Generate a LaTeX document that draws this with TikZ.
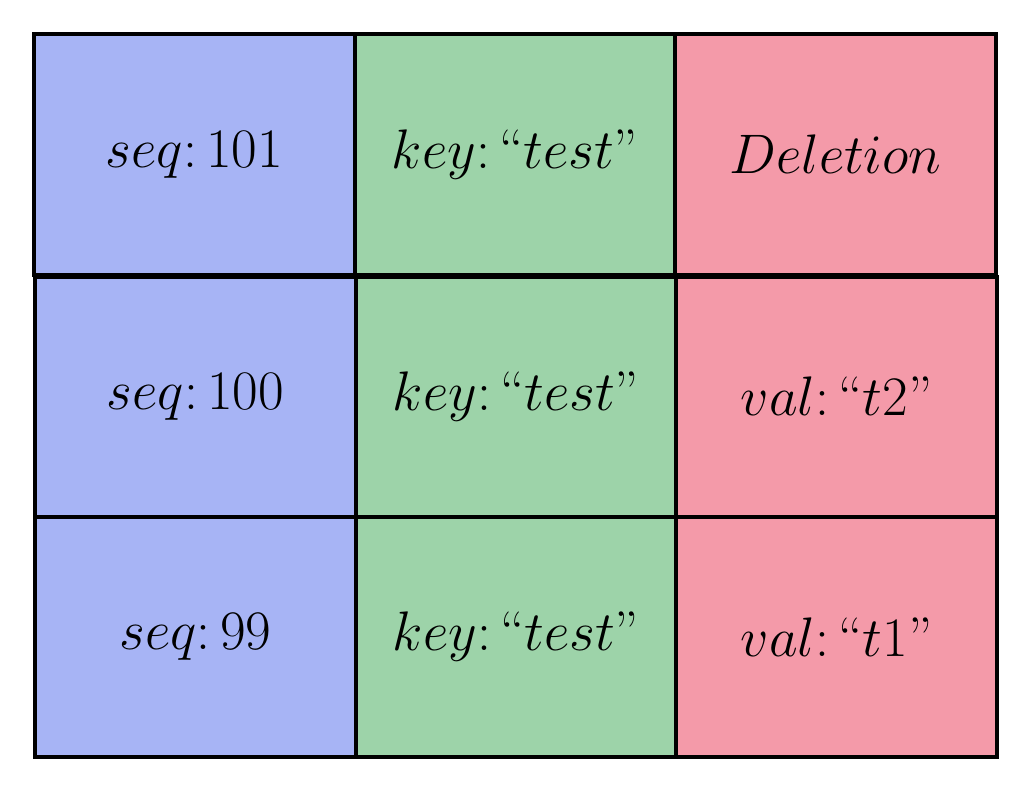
\documentclass[tikz,border=0pt]{standalone}
\usepackage{graphicx}
\definecolor{cblue}{HTML}{A7B4F5}
\definecolor{cgreen}{HTML}{9DD3A9}
\definecolor{cred}{HTML}{F49AA9}
\newcommand{\bigtxt}[1]{\scalebox{1.12}{\Huge #1}}
\begin{document}
\begin{tikzpicture}[x=0.5pt,y=-0.5pt,
  cell/.style={draw=black,line width=2pt,rectangle,inner sep=0pt,
    minimum width=160.5pt,minimum height=120pt},
  bcell/.style={cell,fill=cblue},
  gcell/.style={cell,fill=cgreen},
  rcell/.style={cell,fill=cred}]
\useasboundingbox (0,0) rectangle (1032,792);
% top row (slightly offset)
\node[bcell] (s1) at (194.5,154.5) {\bigtxt{$seq\colon 101$}};
\node[gcell] (k1) at (515,154.5) {\bigtxt{$key\colon \mbox{``}test\mbox{''}$}};
\node[rcell] (d1) at (835.5,154.5) {\bigtxt{$Deletion$}};
% middle row
\node[bcell] (s2) at (195.5,396.5) {\bigtxt{$seq\colon 100$}};
\node[gcell] (k2) at (516,396.5) {\bigtxt{$key\colon \mbox{``}test\mbox{''}$}};
\node[rcell] (v2) at (836.5,396.5) {\bigtxt{$val\colon \mbox{``}t2\mbox{''}$}};
% bottom row
\node[bcell] (s3) at (195.5,637) {\bigtxt{$seq\colon 99$}};
\node[gcell] (k3) at (516,637) {\bigtxt{$key\colon \mbox{``}test\mbox{''}$}};
\node[rcell] (v3) at (836.5,637) {\bigtxt{$val\colon \mbox{``}t1\mbox{''}$}};
\end{tikzpicture}
\end{document}
